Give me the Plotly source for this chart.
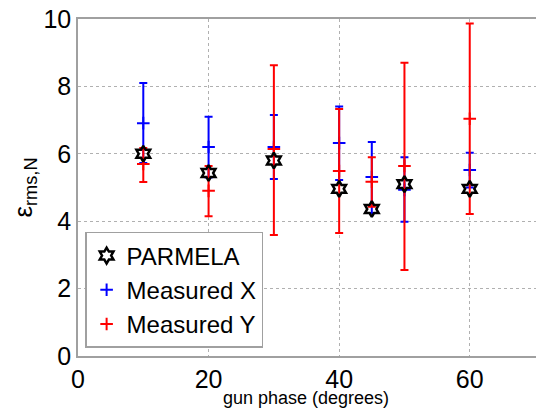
import plotly.graph_objects as go

phase = [10, 20, 30, 40, 45, 50, 60]
parmela = [6.0, 5.43, 5.8, 4.96, 4.36, 5.1, 4.96]
meas_x = [6.91, 6.2, 6.2, 6.32, 5.31, 4.93, 5.52]
meas_x_hi = [8.1, 7.1, 7.15, 7.4, 6.35, 5.9, 6.03]
meas_x_lo = [5.73, 5.3, 5.25, 5.22, 4.24, 3.98, 5.0]
meas_y = [5.70, 4.9, 6.14, 5.49, 5.17, 5.64, 7.04]
meas_y_hi = [6.17, 5.64, 8.63, 7.33, 5.9, 8.7, 9.87]
meas_y_lo = [5.16, 4.15, 3.59, 3.65, 4.43, 2.55, 4.21]

x_ticks = [0, 20, 40, 60]
y_ticks = [0, 2, 4, 6, 8, 10]

def err(mean, hi, lo):
    return dict(type="data", symmetric=False,
                array=[h - m for h, m in zip(hi, mean)],
                arrayminus=[m - l for m, l in zip(mean, lo)])

fig = go.Figure()
fig.add_trace(go.Scatter(
    x=phase, y=meas_x, mode="markers", name="Measured X", legendrank=2,
    marker=dict(symbol="cross-thin", size=9, color="#0000ff",
                line=dict(width=2, color="#0000ff")),
    error_y=dict(**err(meas_x, meas_x_hi, meas_x_lo), color="#0000ff", thickness=2, width=4),
))
fig.add_trace(go.Scatter(
    x=phase, y=meas_y, mode="markers", name="Measured Y", legendrank=3,
    marker=dict(symbol="cross-thin", size=9, color="#ff0000",
                line=dict(width=2, color="#ff0000")),
    error_y=dict(**err(meas_y, meas_y_hi, meas_y_lo), color="#ff0000", thickness=2, width=4),
))
fig.add_trace(go.Scatter(
    x=phase, y=parmela, mode="markers", name="PARMELA", legendrank=1,
    marker=dict(symbol="hexagram-open", size=12, color="#000000",
                line=dict(width=2.5, color="#000000")),
))

axis_common = dict(showgrid=True, gridcolor="#b0b0b0", griddash="dot", gridwidth=1,
                   showline=True, linecolor="#a0a0a0", linewidth=1.5, automargin=False,
                   ticklabeloverflow="allow",
                   zeroline=False, ticks="", tickfont=dict(size=25, color="#000000"))

fig.update_layout(
    width=544, height=411,
    margin=dict(l=70, r=0, t=11, b=63),
    paper_bgcolor="white", plot_bgcolor="white",
    font=dict(family="Liberation Sans, Arial, sans-serif", color="#000000"),
    xaxis=dict(range=[0, 72.6], tickvals=x_ticks, mirror=True, **axis_common),
    yaxis=dict(range=[0, 10], tickvals=y_ticks,
               title=dict(text="ε<sub>rms,N</sub>", font=dict(size=26), standoff=13),
               **axis_common),
    legend=dict(x=0.015, y=0.368, xanchor="left", yanchor="top",
                bgcolor="white", bordercolor="#a0a0a0", borderwidth=1.5,
                font=dict(size=24), itemwidth=30, tracegroupgap=0),
    showlegend=True,
    annotations=[dict(text="gun phase (degrees)", xref="paper", yref="paper",
                      x=0.48, y=-0.125, xanchor="center", yanchor="middle",
                      showarrow=False, font=dict(size=18))],
)

fig.write_html("out.html")
